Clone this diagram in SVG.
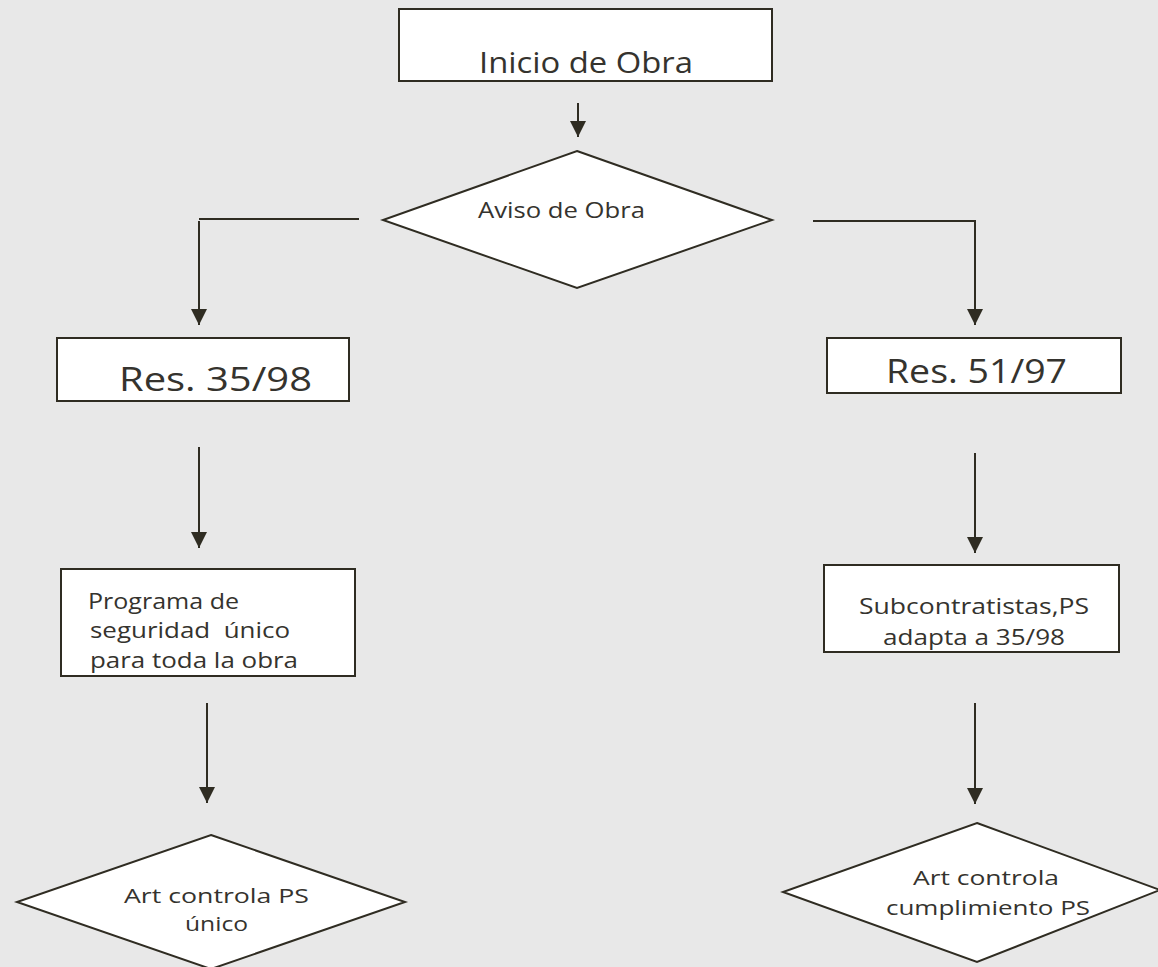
<svg xmlns="http://www.w3.org/2000/svg" width="1158" height="967" viewBox="0 0 1158 967">
<style>
.box{fill:#ffffff;stroke:#2f2c22;stroke-width:2}
.ln{fill:none;stroke:#2f2c22;stroke-width:2}
.t{font-family:"Open Sans","Noto Sans","Liberation Sans",sans-serif;fill:#35332e;white-space:pre}
</style>
<defs>
<marker id="ah" markerUnits="userSpaceOnUse" markerWidth="16" markerHeight="16" refX="15" refY="7.5" orient="auto" viewBox="0 0 15 15">
<path d="M0,0 L15,7.5 L0,15 z" fill="#2f2c22"/>
</marker>
</defs>
<rect width="1158" height="967" fill="#e8e8e8"/>
<g id="connectors">
<line class="ln" x1="578" y1="103" x2="578" y2="137" marker-end="url(#ah)"/>
<line class="ln" x1="359" y1="219" x2="199" y2="219"/>
<line class="ln" x1="199" y1="221" x2="199" y2="325" stroke-width="3" marker-end="url(#ah)"/>
<line class="ln" x1="813" y1="221" x2="976" y2="221"/>
<line class="ln" x1="975" y1="221" x2="975" y2="325" marker-end="url(#ah)"/>
<line class="ln" x1="199" y1="447" x2="199" y2="548" marker-end="url(#ah)"/>
<line class="ln" x1="975" y1="453" x2="975" y2="553" marker-end="url(#ah)"/>
<line class="ln" x1="207" y1="703" x2="207" y2="803" marker-end="url(#ah)"/>
<line class="ln" x1="975" y1="703" x2="975" y2="804" marker-end="url(#ah)"/>
</g>
<g id="inicio">
<rect class="box" x="399" y="9" width="373" height="72"/>
<text class="t" x="479" y="73" font-size="29" textLength="214" lengthAdjust="spacingAndGlyphs">Inicio de Obra</text>
</g>
<g id="aviso">
<polygon class="box" points="577,151 772,220 577,288 383,220"/>
<text class="t" x="478" y="218" font-size="21" textLength="167" lengthAdjust="spacingAndGlyphs">Aviso de Obra</text>
</g>
<g id="res3598">
<rect class="box" x="57" y="338" width="292" height="63"/>
<text class="t" x="119" y="391" font-size="33" textLength="193" lengthAdjust="spacingAndGlyphs">Res. 35/98</text>
</g>
<g id="res5197">
<rect class="box" x="827" y="338" width="294" height="55"/>
<text class="t" x="886" y="383" font-size="33" textLength="181" lengthAdjust="spacingAndGlyphs">Res. 51/97</text>
</g>
<g id="programa">
<rect class="box" x="61" y="569" width="294" height="107"/>
<text class="t" x="88" y="609" font-size="22" textLength="151" lengthAdjust="spacingAndGlyphs">Programa de</text>
<text class="t" x="90" y="638" font-size="22" textLength="200" lengthAdjust="spacingAndGlyphs">seguridad  único</text>
<text class="t" x="90" y="668" font-size="22" textLength="208" lengthAdjust="spacingAndGlyphs">para toda la obra</text>
</g>
<g id="subcontratistas">
<rect class="box" x="824" y="565" width="295" height="87"/>
<text class="t" x="859" y="614" font-size="22" textLength="230" lengthAdjust="spacingAndGlyphs">Subcontratistas,PS</text>
<text class="t" x="883" y="645" font-size="22" textLength="182" lengthAdjust="spacingAndGlyphs">adapta a 35/98</text>
</g>
<g id="artunico">
<polygon class="box" points="211,835 405,902 211,969 17,902"/>
<text class="t" x="124" y="903" font-size="20" textLength="185" lengthAdjust="spacingAndGlyphs">Art controla PS</text>
<text class="t" x="185" y="931" font-size="20" textLength="63" lengthAdjust="spacingAndGlyphs">único</text>
</g>
<g id="artcumplimiento">
<polygon class="box" points="977,823 1160,890 977,962 783,892"/>
<text class="t" x="913" y="885" font-size="20" textLength="146" lengthAdjust="spacingAndGlyphs">Art controla</text>
<text class="t" x="886" y="915" font-size="20" textLength="204" lengthAdjust="spacingAndGlyphs">cumplimiento PS</text>
</g>
</svg>
